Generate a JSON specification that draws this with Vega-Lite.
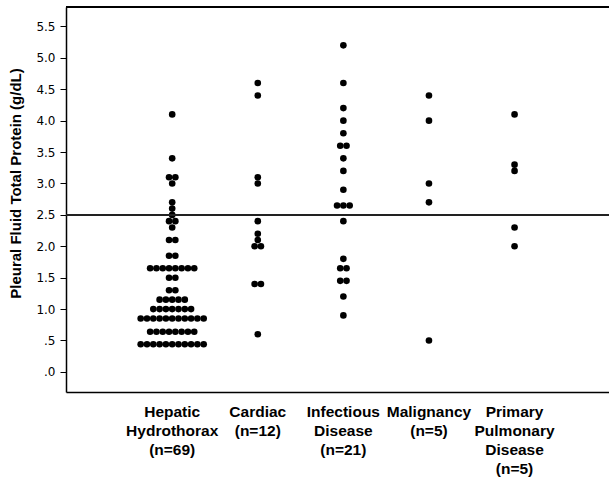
{
  "$schema": "https://vega.github.io/schema/vega-lite/v6.json",
  "width": 543,
  "height": 385,
  "autosize": {"type": "none"},
  "padding": {"left": 66, "top": 7, "right": 0, "bottom": 86},
  "config": {"view": {"stroke": null}},
  "data": {"values": [
    {"group": "Hepatic Hydrothorax (n=69)", "protein": 4.1},
    {"group": "Hepatic Hydrothorax (n=69)", "protein": 3.4},
    {"group": "Hepatic Hydrothorax (n=69)", "protein": 3.1},
    {"group": "Hepatic Hydrothorax (n=69)", "protein": 3.1},
    {"group": "Hepatic Hydrothorax (n=69)", "protein": 3.0},
    {"group": "Hepatic Hydrothorax (n=69)", "protein": 2.7},
    {"group": "Hepatic Hydrothorax (n=69)", "protein": 2.6},
    {"group": "Hepatic Hydrothorax (n=69)", "protein": 2.5},
    {"group": "Hepatic Hydrothorax (n=69)", "protein": 2.4},
    {"group": "Hepatic Hydrothorax (n=69)", "protein": 2.4},
    {"group": "Hepatic Hydrothorax (n=69)", "protein": 2.3},
    {"group": "Hepatic Hydrothorax (n=69)", "protein": 2.1},
    {"group": "Hepatic Hydrothorax (n=69)", "protein": 2.1},
    {"group": "Hepatic Hydrothorax (n=69)", "protein": 1.85},
    {"group": "Hepatic Hydrothorax (n=69)", "protein": 1.85},
    {"group": "Hepatic Hydrothorax (n=69)", "protein": 1.65},
    {"group": "Hepatic Hydrothorax (n=69)", "protein": 1.65},
    {"group": "Hepatic Hydrothorax (n=69)", "protein": 1.65},
    {"group": "Hepatic Hydrothorax (n=69)", "protein": 1.65},
    {"group": "Hepatic Hydrothorax (n=69)", "protein": 1.65},
    {"group": "Hepatic Hydrothorax (n=69)", "protein": 1.65},
    {"group": "Hepatic Hydrothorax (n=69)", "protein": 1.65},
    {"group": "Hepatic Hydrothorax (n=69)", "protein": 1.65},
    {"group": "Hepatic Hydrothorax (n=69)", "protein": 1.5},
    {"group": "Hepatic Hydrothorax (n=69)", "protein": 1.5},
    {"group": "Hepatic Hydrothorax (n=69)", "protein": 1.3},
    {"group": "Hepatic Hydrothorax (n=69)", "protein": 1.3},
    {"group": "Hepatic Hydrothorax (n=69)", "protein": 1.15},
    {"group": "Hepatic Hydrothorax (n=69)", "protein": 1.15},
    {"group": "Hepatic Hydrothorax (n=69)", "protein": 1.15},
    {"group": "Hepatic Hydrothorax (n=69)", "protein": 1.15},
    {"group": "Hepatic Hydrothorax (n=69)", "protein": 1.15},
    {"group": "Hepatic Hydrothorax (n=69)", "protein": 1.0},
    {"group": "Hepatic Hydrothorax (n=69)", "protein": 1.0},
    {"group": "Hepatic Hydrothorax (n=69)", "protein": 1.0},
    {"group": "Hepatic Hydrothorax (n=69)", "protein": 1.0},
    {"group": "Hepatic Hydrothorax (n=69)", "protein": 1.0},
    {"group": "Hepatic Hydrothorax (n=69)", "protein": 1.0},
    {"group": "Hepatic Hydrothorax (n=69)", "protein": 1.0},
    {"group": "Hepatic Hydrothorax (n=69)", "protein": 0.85},
    {"group": "Hepatic Hydrothorax (n=69)", "protein": 0.85},
    {"group": "Hepatic Hydrothorax (n=69)", "protein": 0.85},
    {"group": "Hepatic Hydrothorax (n=69)", "protein": 0.85},
    {"group": "Hepatic Hydrothorax (n=69)", "protein": 0.85},
    {"group": "Hepatic Hydrothorax (n=69)", "protein": 0.85},
    {"group": "Hepatic Hydrothorax (n=69)", "protein": 0.85},
    {"group": "Hepatic Hydrothorax (n=69)", "protein": 0.85},
    {"group": "Hepatic Hydrothorax (n=69)", "protein": 0.85},
    {"group": "Hepatic Hydrothorax (n=69)", "protein": 0.85},
    {"group": "Hepatic Hydrothorax (n=69)", "protein": 0.85},
    {"group": "Hepatic Hydrothorax (n=69)", "protein": 0.64},
    {"group": "Hepatic Hydrothorax (n=69)", "protein": 0.64},
    {"group": "Hepatic Hydrothorax (n=69)", "protein": 0.64},
    {"group": "Hepatic Hydrothorax (n=69)", "protein": 0.64},
    {"group": "Hepatic Hydrothorax (n=69)", "protein": 0.64},
    {"group": "Hepatic Hydrothorax (n=69)", "protein": 0.64},
    {"group": "Hepatic Hydrothorax (n=69)", "protein": 0.64},
    {"group": "Hepatic Hydrothorax (n=69)", "protein": 0.64},
    {"group": "Hepatic Hydrothorax (n=69)", "protein": 0.44},
    {"group": "Hepatic Hydrothorax (n=69)", "protein": 0.44},
    {"group": "Hepatic Hydrothorax (n=69)", "protein": 0.44},
    {"group": "Hepatic Hydrothorax (n=69)", "protein": 0.44},
    {"group": "Hepatic Hydrothorax (n=69)", "protein": 0.44},
    {"group": "Hepatic Hydrothorax (n=69)", "protein": 0.44},
    {"group": "Hepatic Hydrothorax (n=69)", "protein": 0.44},
    {"group": "Hepatic Hydrothorax (n=69)", "protein": 0.44},
    {"group": "Hepatic Hydrothorax (n=69)", "protein": 0.44},
    {"group": "Hepatic Hydrothorax (n=69)", "protein": 0.44},
    {"group": "Hepatic Hydrothorax (n=69)", "protein": 0.44},
    {"group": "Cardiac (n=12)", "protein": 4.6},
    {"group": "Cardiac (n=12)", "protein": 4.4},
    {"group": "Cardiac (n=12)", "protein": 3.1},
    {"group": "Cardiac (n=12)", "protein": 3.0},
    {"group": "Cardiac (n=12)", "protein": 2.4},
    {"group": "Cardiac (n=12)", "protein": 2.2},
    {"group": "Cardiac (n=12)", "protein": 2.1},
    {"group": "Cardiac (n=12)", "protein": 2.0},
    {"group": "Cardiac (n=12)", "protein": 2.0},
    {"group": "Cardiac (n=12)", "protein": 1.4},
    {"group": "Cardiac (n=12)", "protein": 1.4},
    {"group": "Cardiac (n=12)", "protein": 0.6},
    {"group": "Infectious Disease (n=21)", "protein": 5.2},
    {"group": "Infectious Disease (n=21)", "protein": 4.6},
    {"group": "Infectious Disease (n=21)", "protein": 4.2},
    {"group": "Infectious Disease (n=21)", "protein": 4.0},
    {"group": "Infectious Disease (n=21)", "protein": 3.8},
    {"group": "Infectious Disease (n=21)", "protein": 3.6},
    {"group": "Infectious Disease (n=21)", "protein": 3.6},
    {"group": "Infectious Disease (n=21)", "protein": 3.4},
    {"group": "Infectious Disease (n=21)", "protein": 3.2},
    {"group": "Infectious Disease (n=21)", "protein": 2.9},
    {"group": "Infectious Disease (n=21)", "protein": 2.65},
    {"group": "Infectious Disease (n=21)", "protein": 2.65},
    {"group": "Infectious Disease (n=21)", "protein": 2.65},
    {"group": "Infectious Disease (n=21)", "protein": 2.4},
    {"group": "Infectious Disease (n=21)", "protein": 1.8},
    {"group": "Infectious Disease (n=21)", "protein": 1.65},
    {"group": "Infectious Disease (n=21)", "protein": 1.65},
    {"group": "Infectious Disease (n=21)", "protein": 1.45},
    {"group": "Infectious Disease (n=21)", "protein": 1.45},
    {"group": "Infectious Disease (n=21)", "protein": 1.2},
    {"group": "Infectious Disease (n=21)", "protein": 0.9},
    {"group": "Malignancy (n=5)", "protein": 4.4},
    {"group": "Malignancy (n=5)", "protein": 4.0},
    {"group": "Malignancy (n=5)", "protein": 3.0},
    {"group": "Malignancy (n=5)", "protein": 2.7},
    {"group": "Malignancy (n=5)", "protein": 0.5},
    {"group": "Primary Pulmonary Disease (n=5)", "protein": 4.1},
    {"group": "Primary Pulmonary Disease (n=5)", "protein": 3.3},
    {"group": "Primary Pulmonary Disease (n=5)", "protein": 3.2},
    {"group": "Primary Pulmonary Disease (n=5)", "protein": 2.3},
    {"group": "Primary Pulmonary Disease (n=5)", "protein": 2.0}
  ]},
  "layer": [
    {
      "transform": [
        {"window": [{"op": "row_number", "as": "slot"}], "groupby": ["group", "protein"]},
        {"joinaggregate": [{"op": "count", "as": "nslot"}], "groupby": ["group", "protein"]},
        {"calculate": "datum.slot - (datum.nslot + 1) / 2", "as": "swarm"}
      ],
      "mark": {"type": "point", "filled": true, "shape": "circle", "size": 44, "color": "black", "opacity": 1},
      "encoding": {
        "x": {
          "field": "group", "type": "nominal", "sort": null,
          "scale": {"type": "band", "paddingInner": 0, "paddingOuter": 0.672, "align": 0.551},
          "axis": {
            "title": null, "labelAngle": 0, "ticks": false,
            "domain": true, "domainColor": "black", "domainWidth": 1.5,
            "labelFont": "Liberation Sans", "labelFontWeight": "bold", "labelFontSize": 15.5,
            "labelColor": "black", "labelLineHeight": 19.3, "labelPadding": 12,
            "labelBaseline": "top", "labelLimit": 300,
            "labelExpr": "split(datum.label, ' ')"
          }
        },
        "xOffset": {"field": "swarm", "type": "quantitative", "scale": {"domain": [-10, 10], "range": [-20.2, 105.8]}},
        "y": {
          "field": "protein", "type": "quantitative",
          "scale": {"domain": [-0.32, 5.81], "nice": false, "zero": false},
          "axis": {
            "title": "Pleural Fluid Total Protein (g/dL)",
            "titleFont": "Liberation Sans", "titleFontWeight": "bold", "titleFontSize": 15,
            "titleColor": "black", "titlePadding": 12, "titleY": 176,
            "values": [0, 0.5, 1, 1.5, 2, 2.5, 3, 3.5, 4, 4.5, 5, 5.5],
            "labelOverlap": false,
            "labelExpr": "datum.value < 1 ? slice(format(datum.value, '.1f'), 1) : format(datum.value, '.1f')",
            "labelFont": "DejaVu Sans", "labelFontSize": 12, "labelColor": "black", "labelPadding": 5,
            "grid": false, "ticks": true, "tickColor": "black", "tickSize": 6, "tickWidth": 1,
            "domain": true, "domainColor": "black", "domainWidth": 1.5
          }
        }
      }
    },
    {
      "mark": {"type": "rule", "color": "#222222", "strokeWidth": 2},
      "encoding": {"y": {"datum": 2.5, "type": "quantitative",
        "axis": {
            "title": "Pleural Fluid Total Protein (g/dL)",
            "titleFont": "Liberation Sans", "titleFontWeight": "bold", "titleFontSize": 15,
            "titleColor": "black", "titlePadding": 12, "titleY": 176,
            "values": [0, 0.5, 1, 1.5, 2, 2.5, 3, 3.5, 4, 4.5, 5, 5.5],
            "labelOverlap": false,
            "labelExpr": "datum.value < 1 ? slice(format(datum.value, '.1f'), 1) : format(datum.value, '.1f')",
            "labelFont": "DejaVu Sans", "labelFontSize": 12, "labelColor": "black", "labelPadding": 5,
            "grid": false, "ticks": true, "tickColor": "black", "tickSize": 6, "tickWidth": 1,
            "domain": true, "domainColor": "black", "domainWidth": 1.5
        }}}
    },
    {
      "mark": {"type": "rule", "color": "black", "strokeWidth": 1.5},
      "encoding": {"y": {"datum": 5.81, "type": "quantitative",
        "axis": {
            "title": "Pleural Fluid Total Protein (g/dL)",
            "titleFont": "Liberation Sans", "titleFontWeight": "bold", "titleFontSize": 15,
            "titleColor": "black", "titlePadding": 12, "titleY": 176,
            "values": [0, 0.5, 1, 1.5, 2, 2.5, 3, 3.5, 4, 4.5, 5, 5.5],
            "labelOverlap": false,
            "labelExpr": "datum.value < 1 ? slice(format(datum.value, '.1f'), 1) : format(datum.value, '.1f')",
            "labelFont": "DejaVu Sans", "labelFontSize": 12, "labelColor": "black", "labelPadding": 5,
            "grid": false, "ticks": true, "tickColor": "black", "tickSize": 6, "tickWidth": 1,
            "domain": true, "domainColor": "black", "domainWidth": 1.5
        }}}
    }
  ]
}
